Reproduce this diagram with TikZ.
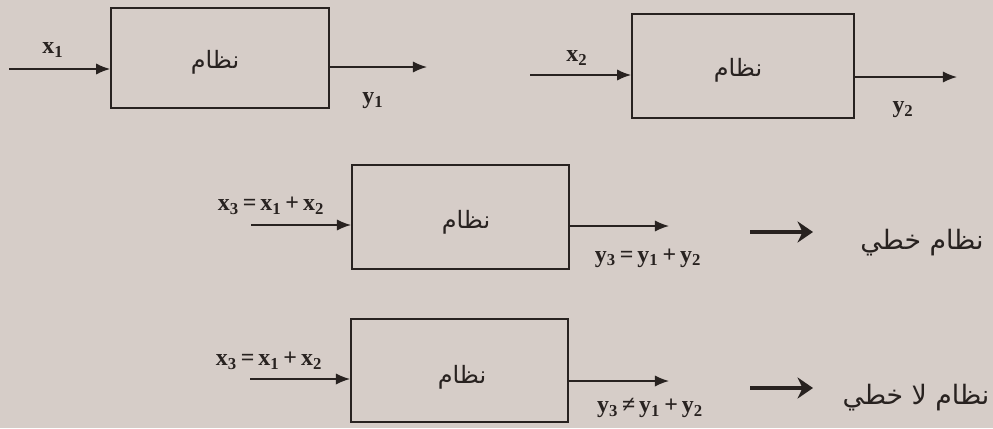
\documentclass[tikz,border=0pt]{standalone}
\usepackage{fontspec}
\setmainfont{Liberation Serif}
\newfontfamily\arabicfont[Script=Arabic]{DejaVu Sans}
\TeXXeTstate=1
\usetikzlibrary{arrows.meta}

\definecolor{paper}{RGB}{214,205,200}
\definecolor{ink}{RGB}{40,34,32}

\tikzset{
  sysbox/.style={draw=ink, line width=1.2pt, inner sep=0pt},
  sig/.style={draw=ink, line width=1.1pt, -{Latex[length=10pt,width=8pt]}},
  bigarrow/.style={draw=ink, line width=2.6pt, -{Stealth[length=11pt,width=15pt]}},
  lbl/.style={text=ink, font=\fontsize{17}{17}\selectfont\bfseries, inner sep=0pt},
  artext/.style={text=ink, font=\fontsize{17}{19}\selectfont\arabicfont, inner sep=0pt},
  bigtext/.style={artext, font=\fontsize{19}{21}\selectfont\arabicfont}
}

\newcommand{\sys}{\beginR نظام\endR}

\begin{document}
\begin{tikzpicture}[x=0.025cm, y=-0.025cm]

% Paper
\useasboundingbox[fill=paper] (0,0) rectangle (993,428);

% First system
\node[sysbox, minimum width=5.45cm, minimum height=2.5cm] (box1) at (220,58) {};
\node[artext] (t1) at (215,62) {\sys};
\coordinate (in1) at (9,69);
\coordinate (out1) at (427,67);
\draw[sig] (in1) -- (box1.west |- in1);
\draw[sig] (box1.east |- out1) -- (out1);
\node[lbl] (x1) at (53,50) {x\textsubscript{1}};
\node[lbl] (y1) at (373,101) {y\textsubscript{1}};

% Second system
\node[sysbox, minimum width=5.55cm, minimum height=2.6cm] (box2) at (743,66) {};
\node[artext] (t2) at (738,70) {\sys};
\coordinate (in2) at (530,75);
\coordinate (out2) at (957,77);
\draw[sig] (in2) -- (box2.west |- in2);
\draw[sig] (box2.east |- out2) -- (out2);
\node[lbl] (x2) at (577,58) {x\textsubscript{2}};
\node[lbl] (y2) at (903,110) {y\textsubscript{2}};

% Sum of inputs (linear)
\node[sysbox, minimum width=5.43cm, minimum height=2.6cm] (box3) at (460.5,217) {};
\node[artext] (t3) at (466,222) {\sys};
\coordinate (in3) at (251,225);
\coordinate (out3) at (669,226);
\draw[sig] (in3) -- (box3.west |- in3);
\draw[sig] (box3.east |- out3) -- (out3);
\node[lbl] (x3) at (271,206) {x\textsubscript{3}\,=\,x\textsubscript{1}\,+\,x\textsubscript{2}};
\node[lbl] (y3) at (648,258) {y\textsubscript{3}\,=\,y\textsubscript{1}\,+\,y\textsubscript{2}};
\coordinate (r3a) at (750,232);
\coordinate (r3b) at (813,232);
\node[bigtext] (lin) at (922,243) {\beginR نظام خطي\endR};
\draw[bigarrow] (r3a) -- (r3b);

% Sum of inputs (non linear)
\node[sysbox, minimum width=5.43cm, minimum height=2.58cm] (box4) at (459.5,370.5) {};
\node[artext] (t4) at (462,377) {\sys};
\coordinate (in4) at (250,379);
\coordinate (out4) at (669,381);
\draw[sig] (in4) -- (box4.west |- in4);
\draw[sig] (box4.east |- out4) -- (out4);
\node[lbl] (x4) at (269,361) {x\textsubscript{3}\,=\,x\textsubscript{1}\,+\,x\textsubscript{2}};
\node[lbl] (y4) at (650,408) {y\textsubscript{3}\,≠\,y\textsubscript{1}\,+\,y\textsubscript{2}};
\coordinate (r4a) at (750,388);
\coordinate (r4b) at (813,388);
\node[bigtext] (nonlin) at (916,398) {\beginR نظام لا خطي\endR};
\draw[bigarrow] (r4a) -- (r4b);

\end{tikzpicture}
\end{document}
